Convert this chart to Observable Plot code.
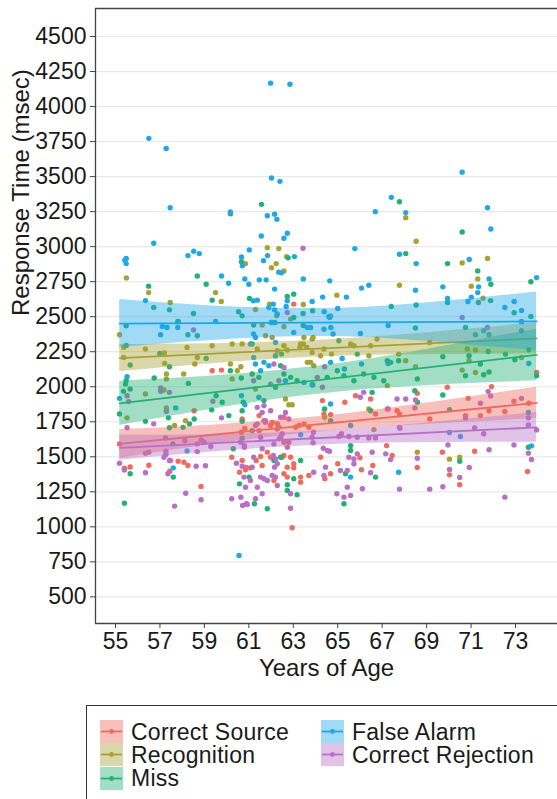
<!DOCTYPE html>
<html><head><meta charset="utf-8">
<script src="https://cdn.jsdelivr.net/npm/d3@7"></script>
<script src="https://cdn.jsdelivr.net/npm/@observablehq/plot@0.6"></script>
<style>
html,body{margin:0;padding:0;background:#fff;}
#wrap{position:relative;width:557px;height:799px;overflow:hidden;font-family:"Liberation Sans",Arial,Helvetica,sans-serif;background:#fff;}
#chart{position:absolute;left:0;top:0;}
#legend{position:absolute;left:86px;top:705px;width:490px;height:110px;border:1.2px solid #333;box-sizing:border-box;}
.item{position:absolute;height:23px;display:flex;align-items:center;}
.item svg{display:block;flex:none}
.item span{font-size:23px;letter-spacing:0.25px;color:#1a1a1a;margin-left:8px;line-height:22px;white-space:nowrap}
</style></head>
<body><div id="wrap"><div id="chart"></div><div id="legend"></div></div>
<script>
// ---- data (age in years, response time in msec) ----
const seriesNames = ["Correct Source","Recognition","Miss","False Alarm","Correct Rejection"];
const seriesColors = ["#EF6A5F","#A6A235","#22B174","#1FA8E4","#B86FC6"];
const xTicks = [55,57,59,61,63,65,67,69,71,73];
const yTicks = [500,750,1000,1250,1500,1750,2000,2250,2500,2750,3000,3250,3500,3750,4000,4250,4500];

const correctSource = [[55.18,1592],[55.40,1419],[55.66,1427],[56.50,1440],[56.35,1526],[57.82,1469],[58.08,1461],[58.26,1438],[58.85,1288],[58.54,1829],[58.68,1592],[59.35,2114],[59.77,2119],[60.70,1770],[60.82,1703],[60.66,1675],[60.23,1497],[60.88,1424],[60.58,1390],[57.47,1473],[57.44,1397],
[64.31,1901],[64.68,1801],[65.32,1889],[65.80,1936],[66.48,1913],[66.70,1806],[67.23,1842],[67.67,1829],[65.05,1645],[62.05,1746],[62.35,1711],[62.58,1782],[62.58,1604],[62.80,1604],[61.98,1497],[62.58,1509],[62.88,1497],[62.73,1426],[63.02,1450],[62.73,1355],[63.33,1319],[63.70,1367],[64.68,1379],[65.00,1450],[67.45,1509],[62.95,994],
[67.20,1580],[66.58,1438],[66.00,1493],[66.07,1407],[64.42,1343],[67.78,1806],
[60.70,1473],[60.85,1407],[61.07,1421],[61.33,1473],[61.53,1502],[61.60,1438],[61.83,1533],[62.13,1331],[62.50,1497],[62.58,1379],[63.02,1421],[61.46,1794],[61.68,1758],[61.98,1723],[62.28,1735],[63.33,1355],[64.38,1806],[63.11,1711],[63.26,1723],[63.48,1735],[63.70,1711],[64.23,1497],
[63.02,2590],
[73.95,2102],[68.58,1953],[69.93,1996],[70.87,1917],[71.92,2001],[72.93,1896],[73.60,1882],[70.75,1794],[71.42,1794],[71.81,1829],[72.52,1824],[69.14,1770],[69.71,1533],[71.16,1540],[68.58,1424],[70.03,1371],[70.49,1300],[73.54,1395]];

const recognition = [[55.49,2777],[56.49,2672],[57.46,2601],[59.76,2608],[59.50,2672],[60.85,2879],
[61.83,2993],[62.35,2986],[62.70,2929],[62.23,2879],[62.02,2850],[62.58,2827],[64.96,2654],[63.45,2587],[61.93,2590],[61.30,2551],[62.25,2506],[62.88,2483],[64.68,2506],[67.78,2725],[68.06,3207],[61.60,2440],
[68.53,3039],[70.60,2884],[71.74,2915],[71.30,2770],[71.01,2718],[71.54,2632],
[55.18,2371],[55.52,1778],[56.35,2269],[56.35,1949],[57.18,1977],[57.20,2241],[57.21,2167],[57.29,2091],[57.29,2056],[57.29,1849],[57.66,1723],[58.07,2091],[58.57,2162],[58.15,1758],[59.35,2293],[60.25,2305],[60.17,2162],[60.25,2056],[60.64,2143],[60.70,2305],
[61.38,2269],[61.75,2364],[62.05,2352],[62.58,2293],[62.20,2221],[63.33,2305],[63.85,2245],[63.78,2174],[63.92,2150],[64.23,2221],[64.38,2269],[64.72,2233],[65.58,2305],[65.73,2293],[66.40,2221],[66.77,2340],[67.74,2233],[61.30,1984],[62.65,1913],[62.80,1872],[62.95,1872],[64.41,1782],[66.40,1842],[66.63,1694],[67.23,2008],
[70.83,2269],[71.20,2262],[70.91,2186],[70.60,2119],[71.20,2102],[73.27,2209],[68.06,2186],[68.50,2143],[69.14,2316],[68.58,1533],[70.03,1483],[70.49,1497],
[63.45,2305],[63.61,2281],[66.48,2293],[63.89,2352],[55.37,2281],[55.37,2209],[58.22,2281],[58.68,2209],[60.48,2114],[62.58,2428],[62.28,2257],[62.73,2262],[63.30,2281],[63.48,2352],[63.85,2340],[63.63,2174],[57.80,2466]];

const miss = [[60.17,3235],[58.68,2791],[59.08,2732],[56.49,2718],[56.72,2566],[57.43,2549],[58.51,2523],[59.35,2618],[60.67,2893],[61.03,2630],[60.54,2535],[60.70,2506],[57.82,2466],[55.48,2435],
[61.57,3302],[62.77,2920],[63.02,2661],[62.73,2644],[63.87,2542],[63.44,2523],[63.02,2494],[67.78,3321],[68.06,2950],[67.41,2573],[63.45,2437],[61.22,2440],[62.01,2459],[62.17,2459],
[70.60,3105],[69.94,2879],[71.30,2827],[71.89,2732],[71.33,2601],[71.88,2615],[68.53,2583],[69.94,2601],[72.94,2528],[73.69,2749],[73.69,2502],[70.75,2423],[68.50,2419],[73.27,2464],
[55.48,2295],[55.66,2155],[55.48,2043],[55.66,1984],[55.36,1967],[55.18,1806],[55.66,1379],[55.40,1169],[56.74,2062],[56.35,1753],[57.43,2143],[57.38,1778],[57.43,1707],[57.60,1355],[58.26,2371],[58.68,2364],[58.28,2024],[58.04,1710],[58.54,1770],[59.80,1889],[59.53,1936],[60.10,1794],[60.17,2114],[60.66,2062],[60.75,1889],[60.70,1829],[60.70,1753],[60.70,1632],[61.01,1355],[60.58,1307],[55.45,2019],[56.99,2238],[59.08,2202],[59.33,1835],[57.58,1592],[60.30,1557],[58.33,1735],
[61.15,2305],[61.15,2091],[62.47,2233],[65.05,2328],[65.88,2233],[67.23,2186],[67.74,2186],[62.20,1996],[62.88,2067],[64.53,2067],[64.98,2114],[66.17,2091],[66.63,2067],[67.38,2174],[61.68,1901],[64.41,1842],[64.68,1758],[66.55,1960],[66.48,1829],[61.15,1687],[62.13,1473],[62.43,1497],[63.33,1473],[63.02,1343],[65.35,1379],[65.58,1580],[65.58,1545],[66.70,1355],[65.28,1165],[61.25,1165],[61.83,1129],[62.73,1260],[63.17,1229],[62.73,1300],[61.45,2067],[62.58,2091],[63.17,2043],[63.85,2015],[65.28,2079],[65.73,2043],[67.07,2043],[62.43,2150],
[71.20,2371],[71.81,2371],[73.27,2400],[71.77,2252],[71.42,2162],[69.73,2214],[70.75,2079],[71.57,2086],[71.81,2105],[72.55,2233],[72.97,2193],[73.60,2264],[73.95,2079],[68.58,2056],[68.47,1972],[68.59,1889],[69.73,1941],[70.03,1837],[73.58,1568],[70.49,1468],[70.91,2221]];

const falseAlarm = [[61.98,4167],[62.85,4159],
[56.50,3773],[57.28,3701],[57.46,3278],[60.17,3247],[56.72,3024],[55.42,2903],[55.48,2915],[55.48,2879],[58.26,2936],[58.52,2967],[58.77,2950],[59.77,2791],[60.09,2739],[56.35,2615],[60.67,2927],[60.71,2863],[60.82,2770],[61.00,2732],[61.02,2977],[57.32,2423],[59.50,2466],
[62.02,3490],[62.40,3466],[61.83,3221],[62.16,3231],[62.26,3195],[61.56,3076],[62.58,3060],[62.73,3096],[63.05,2929],[61.84,2936],[61.66,2900],[62.35,2818],[62.47,2813],[61.47,2763],[61.78,2763],[62.16,2697],[63.45,2770],[64.64,2756],[65.77,2986],[66.69,3250],[67.41,3352],[68.06,3243],[67.78,2946],[66.07,2704],[66.40,2725],[65.39,2640],[64.32,2640],[63.85,2608],[62.73,2613],[62.68,2573],[61.20,2613],[61.38,2618],[62.16,2549],[64.39,2535],[64.60,2502],[65.00,2559],[67.27,2437],[64.69,2423],
[70.60,3532],[71.74,3278],[71.89,3126],[68.53,2879],[70.92,2908],[71.81,2770],[71.34,2713],[71.30,2672],[71.01,2640],[70.86,2608],[68.50,2689],[69.73,2713],[69.94,2630],[72.52,2566],[72.94,2608],[73.27,2544],[73.95,2779],
[55.52,2072],[55.18,1917],[57.03,2371],[57.71,1849],[57.60,1421],[58.22,1542],[60.67,1936],[60.82,1872],
[61.30,2162],[61.53,2114],[61.90,2150],[61.68,2174],[63.02,2388],[64.68,2174],[64.79,2376],[66.02,2380],[62.65,2043],[63.48,2031],[61.45,1925],[64.68,1877],[65.58,1723],[63.33,1657],[65.58,1355],[67.74,1390],
[73.60,2166],[73.58,1817],[70.03,1673],[70.52,1645],[73.72,1578],
[60.56,796],
[57.11,2430],[57.80,2423],[61.22,2376],[61.30,2352],[61.07,2305],[61.22,2209],[62.05,2459],[62.28,2519],[62.20,2316],[61.90,2566],[62.10,2590],[62.20,2221],[63.78,2423],[64.38,2411],[64.64,2494],[73.27,2466],[71.57,2400],[67.27,2166],[66.07,2162],[65.20,2202],[65.30,2127],[63.88,2013],[63.63,2423]];

const correctRejection = [[58.51,2405],[63.44,2989],[62.73,2530],[70.60,2494],[71.74,2423],
[55.52,1936],[55.59,1894],[55.52,1707],[55.18,1454],[55.40,1405],[57.03,1991],[57.03,1967],[57.43,1960],[56.72,1735],[57.29,1825],[57.27,1540],[57.27,1516],[57.43,1473],[57.36,1379],[57.18,1497],[56.50,1533],[56.35,1386],[57.66,1148],[58.16,1240],[58.85,1193],[58.86,1621],[58.68,1537],[58.63,1433],[59.05,1436],[59.29,1573],[59.38,1896],[59.77,1778],[60.80,1568],[60.44,1454],[60.70,1433],[60.78,1355],[60.64,1212],[60.89,1165],[60.72,1153],[60.23,1200],[57.25,1635],[58.12,1616],[58.98,1604],
[62.13,2162],[62.58,2138],[64.41,2143],[61.22,2043],[61.98,2019],[62.35,2043],[64.08,2067],[64.31,1996],[66.02,1925],[66.17,1960],[67.67,1913],[65.88,1640],[63.85,1640],[65.50,1645],[62.43,1640],[61.98,1829],[61.60,1817],[61.75,1758],[61.38,1735],[61.53,1640],[62.13,1592],[62.73,1568],[61.60,1557],[61.22,1497],[61.15,1426],[61.53,1355],[62.16,1426],[62.05,1367],[62.20,1355],[63.92,1390],[64.45,1426],[65.12,1402],[65.43,1402],[65.73,1450],[65.50,1497],[65.73,1485],[65.88,1521],[66.55,1533],[67.16,1521],[66.11,1272],[65.43,1283],[65.58,1224],[65.28,1212],[64.96,1236],[61.30,1200],[61.60,1236],[62.88,1236],[62.88,1133],[62.28,1295],[61.38,1283],
[67.78,1269],[67.38,1480],[66.48,1386],[67.27,1842],[67.78,1710],[65.17,1664],[66.40,1635],[66.70,1635],[67.80,1703],[64.35,1561],[64.63,1540],[63.89,1600],
[68.50,1906],[68.06,1913],[71.42,1882],[71.77,1967],[71.88,1934],[73.27,1917],[68.47,1849],[70.75,1778],[73.58,1778],[73.58,1727],[73.95,1692],[71.16,1706],[71.57,1664],[69.96,1585],[71.81,1550],[72.93,1585],[73.58,1526],[73.72,1481],[68.58,1490],[70.03,1409],[70.49,1352],[70.92,1424],[69.14,1269],[69.73,1286],[72.52,1212],
[61.07,1331],[60.85,1283],[60.93,1160],[61.68,1343],[61.83,1331],[62.10,1509],[62.20,1485],[62.28,1450],[62.36,1628],[62.50,1664],[62.28,1699],[61.46,1687],[61.30,1723],[61.75,1746],[62.80,1770],[62.43,1782],[62.65,1817],[61.38,1853],[61.68,1865],[60.63,1604],[60.80,1580],[63.91,1675],[64.53,1545],[64.38,1367]];

// fitted lines (read at the ends of the age range) and confidence bands
const fitAges = [55.19, 73.95];
const fitCorrectSource = [1592, 1885];
const fitRecognition = [2205, 2345];
const fitMiss = [1882, 2228];
const fitFalseAlarm = [2451, 2466];
const fitCorrectRejection = [1564, 1710];

const bandAges = [55.19, 59.34, 63.57, 67.81, 73.95];
const bandCorrectSourceLo = [1490, 1588, 1668, 1720, 1773];
const bandCorrectSourceHi = [1694, 1726, 1778, 1858, 1997];
const bandRecognitionLo = [2108, 2165, 2208, 2228, 2233];
const bandRecognitionHi = [2302, 2307, 2328, 2370, 2457];
const bandMissLo = [1724, 1840, 1937, 1997, 2043];
const bandMissHi = [2040, 2076, 2137, 2233, 2413];
const bandFalseAlarmLo = [2280, 2331, 2358, 2338, 2256];
const bandFalseAlarmHi = [2622, 2577, 2558, 2584, 2676];
const bandCorrectRejectionLo = [1475, 1534, 1579, 1600, 1604];
const bandCorrectRejectionHi = [1653, 1658, 1679, 1724, 1816];

// ---- build tables ----
const pointSets = [correctSource, recognition, miss, falseAlarm, correctRejection];
const fits = [fitCorrectSource, fitRecognition, fitMiss, fitFalseAlarm, fitCorrectRejection];
const bandsLo = [bandCorrectSourceLo, bandRecognitionLo, bandMissLo, bandFalseAlarmLo, bandCorrectRejectionLo];
const bandsHi = [bandCorrectSourceHi, bandRecognitionHi, bandMissHi, bandFalseAlarmHi, bandCorrectRejectionHi];

const points = pointSets.flatMap((s, i) => s.map(([age, ms]) => ({age, ms, group: seriesNames[i]})));

const xDomain = [54.10, 74.89];
const yDomain = [310, 4700];

const smoothMarks = seriesNames.flatMap((name, i) => [
  Plot.areaY(bandAges.map((a, j) => ({age: a, lo: bandsLo[i][j], hi: bandsHi[i][j], group: name})),
    {x: "age", y1: "lo", y2: "hi", fill: "group", fillOpacity: 0.42, curve: "natural"}),
  Plot.line(fitAges.map((a, j) => ({age: a, ms: fits[i][j], group: name})),
    {x: "age", y: "ms", stroke: "group", strokeWidth: 1.8})
]);

const chart = Plot.plot({
  width: 557, height: 695,
  marginLeft: 95, marginRight: 0, marginTop: 8, marginBottom: 72,
  style: {fontFamily: "'Liberation Sans', Arial, Helvetica, sans-serif", fontSize: "23px", color: "#1a1a1a", background: "white", overflow: "visible"},
  x: {domain: xDomain, label: null},
  y: {domain: yDomain, label: null},
  color: {domain: seriesNames, range: seriesColors},
  marks: [
    Plot.gridY(yTicks, {stroke: "#e9e9e9", strokeOpacity: 1, strokeWidth: 1.2}),
    Plot.dot(points, {x: "age", y: "ms", fill: "group", r: 2.7}),
    ...smoothMarks,
    Plot.ruleX([xDomain[0]], {stroke: "#444", strokeWidth: 1.3}),
    Plot.ruleY(yDomain, {stroke: "#444", strokeWidth: 1.3}),
    Plot.axisX(xTicks, {tickSize: 5, tickPadding: 4, label: null, stroke: "#444"}),
    Plot.axisY(yTicks, {tickSize: 5, tickPadding: 4, label: null, tickFormat: d => String(d), stroke: "#444"}),
    Plot.text(["Years of Age"], {frameAnchor: "bottom", dy: 52, fontSize: 24, fill: "#1a1a1a"}),
    Plot.text(["Response Time (msec)"], {frameAnchor: "left", rotate: -90, dx: -74, fontSize: 24, fill: "#1a1a1a"})
  ]
});
document.getElementById("chart").appendChild(chart);

// ---- legend (HTML, below the plot) ----
const legend = document.getElementById("legend");
const slots = [[13, 14], [13, 37.3], [13, 60.6], [234, 14], [234, 37.3]];
seriesNames.forEach((name, i) => {
  const item = document.createElement("div");
  item.className = "item";
  item.style.left = slots[i][0] + "px";
  item.style.top = slots[i][1] + "px";
  const c = seriesColors[i];
  item.innerHTML = `<svg width="23" height="23"><rect x="0" y="0" width="23" height="23" fill="${c}" fill-opacity="0.42"/><line x1="1" x2="22" y1="11.5" y2="11.5" stroke="${c}" stroke-width="1.8"/><circle cx="11.5" cy="11.5" r="2.4" fill="${c}"/></svg><span>${name}</span>`;
  legend.appendChild(item);
});
</script></body></html>
